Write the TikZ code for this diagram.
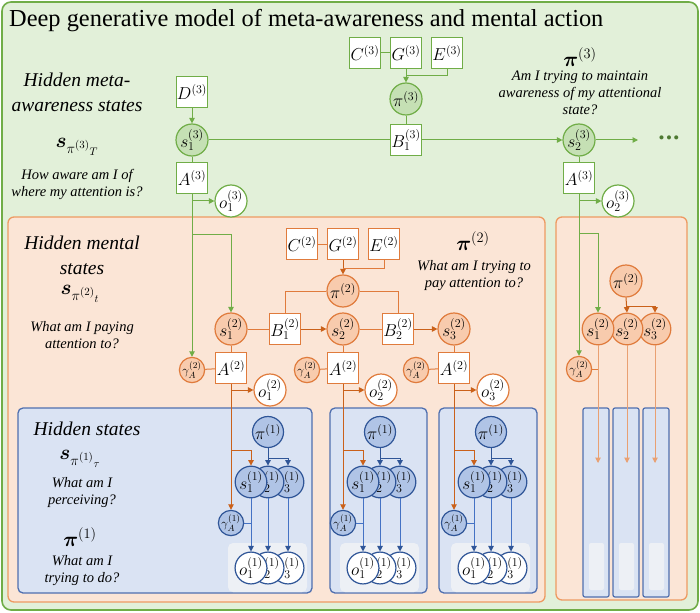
\documentclass[tikz,border=0pt]{standalone}
\usepackage{fontspec}
\setmainfont{Liberation Serif}
\usepackage{bm}
\usetikzlibrary{arrows.meta}
\definecolor{gline}{HTML}{70AD47}
\definecolor{gfill}{HTML}{E2F0D9}
\definecolor{gcirc}{HTML}{C5E0B4}
\definecolor{oline}{HTML}{E07B3C}
\definecolor{obox}{HTML}{EE9A62}
\definecolor{ofill}{HTML}{FBE5D6}
\definecolor{ocirc}{HTML}{F8CBAD}
\definecolor{odark}{HTML}{C55A11}
\definecolor{bline}{HTML}{4472C4}
\definecolor{bbox}{HTML}{4F6FAF}
\definecolor{bdark}{HTML}{2F5597}
\definecolor{bfill}{HTML}{DAE3F3}
\definecolor{bcirc}{HTML}{B0C4E6}
\definecolor{pale}{HTML}{EDF0F5}
\tikzset{
  lab/.style={font=\fontsize{17}{19}\selectfont, inner sep=0pt},
  smalllab/.style={font=\fontsize{13}{15}\selectfont, inner sep=0pt},
  gsq/.style={lab, draw=gline, line width=1.2pt, fill=white, minimum size=31pt},
  gci/.style={lab, circle, draw=gline, line width=1.2pt, fill=gcirc, minimum size=32pt},
  gwc/.style={gci, fill=white},
  osq/.style={lab, draw=oline, line width=1.2pt, fill=white, minimum size=31pt},
  oci/.style={lab, circle, draw=oline, line width=1.2pt, fill=ocirc, minimum size=32pt},
  owc/.style={oci, fill=white},
  ogam/.style={smalllab, circle, draw=oline, line width=1.2pt, fill=ocirc, minimum size=24pt},
  bci/.style={lab, circle, draw=bdark, line width=1.2pt, fill=bcirc, minimum size=31pt},
  bwc/.style={bci, fill=white},
  bgam/.style={smalllab, circle, draw=bdark, line width=1.2pt, fill=bcirc, minimum size=24pt},
  tip/.style={-{Triangle[length=5.5pt,width=5.5pt]}},
  gl/.style={draw=gline, line width=1pt},
  ga/.style={gl, tip},
  ol/.style={draw=oline, line width=1pt},
  oa/.style={draw=odark!80!oline, line width=1pt, tip},
  ofa/.style={draw=oline!65!ofill, line width=1pt, tip},
  bl/.style={draw=bline, line width=1pt},
  ba/.style={draw=bdark, line width=1pt, tip},
  bla/.style={draw=bline, line width=1pt, -{Triangle[length=5.5pt,width=5.5pt,color=bdark]}},
  head/.style={font=\fontsize{19.5}{25}\selectfont\itshape, align=center},
  note/.style={font=\fontsize{14.5}{17}\selectfont\itshape, align=center},
  sym/.style={font=\fontsize{22}{24}\selectfont},
  pisym/.style={font=\fontsize{20}{22}\selectfont},
  panel/.style={rounded corners=6pt, line width=1.3pt},
}
\begin{document}
\begin{tikzpicture}[x=1pt,y=-1pt]
\useasboundingbox (0,0) rectangle (700,612);
% panels
\draw[panel, draw=gline, fill=gfill, rounded corners=9pt, line width=1.6pt] (2,2) rectangle (698,610);
\draw[panel, draw=obox, fill=ofill] (8,217) rectangle (545,602);
\draw[panel, draw=obox, fill=ofill] (556,217) rectangle (687,600);
\draw[panel, draw=bbox, fill=bfill, rounded corners=5pt] (18,408) rectangle (312,593);
\draw[panel, draw=bbox, fill=bfill, rounded corners=5pt] (330,408) rectangle (427,593);
\draw[panel, draw=bbox, fill=bfill, rounded corners=5pt] (439,408) rectangle (537,593);
\foreach \x in {583,613,643} {
  \draw[draw=bbox, fill=bfill, rounded corners=2pt, line width=1.2pt] (\x,408) rectangle ({\x+26},597);
  \fill[pale, rounded corners=2pt] ({\x+6},543) rectangle ({\x+21},590);
}
% title
\node[anchor=west, font=\fontsize{24.4}{27}\selectfont, inner sep=0pt] (title) at (9,21) {Deep generative model of meta-awareness and mental action};
% texts level 3
\node[head] (t3a) at (77,92) {Hidden meta-\\awareness states};
\node[sym] (t3b) at (77,147) {$\bm{s}_{\pi^{(3)}{}_{T}}$};
\node[note] (t3c) at (77,184) {How aware am I of\\where my attention is?};
\node[pisym] (t3d) at (580,57) {$\bm{\pi}^{(3)}$};
\node[note] (t3e) at (580,93) {Am I trying to maintain\\awareness of my attentional\\state?};
% texts level 2
\node[head] (t2a) at (82,255) {Hidden mental\\states};
\node[sym] (t2b) at (80,294) {$\bm{s}_{\pi^{(2)}{}_{t}}$};
\node[note] (t2c) at (82,335) {What am I paying\\attention to?};
\node[pisym] (t2d) at (473,241) {$\bm{\pi}^{(2)}$};
\node[note] (t2e) at (474,276) {What am I trying to\\pay attention to?};
% texts level 1
\node[head] (t1a) at (87,429) {Hidden states};
\node[sym] (t1b) at (80,459) {$\bm{s}_{\pi^{(1)}{}_{\tau}}$};
\node[note] (t1c) at (82,493) {What am I\\perceiving?};
\node[pisym] (t1d) at (80,537) {$\bm{\pi}^{(1)}$};
\node[note] (t1e) at (82,571) {What am I\\trying to do?};
% level 3 nodes
\node[gsq] (D3) at (192,92) {$D^{(3)}$};
\node[gci] (s13) at (192,140) {$s_1^{(3)}$};
\node[gsq] (A3) at (192,178) {$A^{(3)}$};
\node[gwc] (o13) at (231,201) {$o_1^{(3)}$};
\node[gsq] (C3) at (365,53) {$C^{(3)}$};
\node[gsq] (G3) at (406,53) {$G^{(3)}$};
\node[gsq] (E3) at (447,53) {$E^{(3)}$};
\node[gci] (pi3) at (406,99) {$\pi^{(3)}$};
\node[gsq] (B13) at (406,140) {$B_1^{(3)}$};
\node[gci] (s23) at (579,140) {$s_2^{(3)}$};
\node[gsq] (A32) at (579,178) {$A^{(3)}$};
\node[gwc] (o23) at (618,201) {$o_2^{(3)}$};
\coordinate (e3) at (638,140);
\node[font=\fontsize{17}{17}\selectfont, text=gline!70!black, inner sep=0pt] (dots) at (669,140) {\textbullet\hspace{1.5pt}\textbullet\hspace{1.5pt}\textbullet};
\coordinate (j3) at (406,76);
\coordinate (k1) at (192,234);
\coordinate (k2) at (579,233);
\coordinate (y450) at (0,450);
\coordinate (y458) at (0,458);
\coordinate (y306) at (0,306);
\coordinate (y463) at (0,463);
% level 3 edges
\draw[ga] (D3) -- (s13);
\draw[gl] (s13) -- (A3);
\draw[gl] (C3) -- (G3);
\draw[ga] (G3) -- (pi3);
\draw[gl] (E3.south) |- (j3);
\draw[gl] (pi3) -- (B13);
\draw[gl] (s13) -- (B13);
\draw[ga] (B13) -- (s23);
\draw[ga] (s23) -- (e3);
\draw[gl] (s23) -- (A32);
\draw[ga] (A3.south |- o13.west) -- (o13.west);
\draw[ga] (A32.south |- o23.west) -- (o23.west);
% level 2 nodes
\node[osq] (C2) at (302,244) {$C^{(2)}$};
\node[osq] (G2) at (343,244) {$G^{(2)}$};
\node[osq] (E2) at (384,244) {$E^{(2)}$};
\node[oci] (pi2) at (343,291) {$\pi^{(2)}$};
\node[oci] (ss1) at (231,329) {$s_1^{(2)}$};
\node[osq] (B12) at (285,329) {$B_1^{(2)}$};
\node[oci] (ss2) at (343,329) {$s_2^{(2)}$};
\node[osq] (B22) at (398,329) {$B_2^{(2)}$};
\node[oci] (ss3) at (454,329) {$s_3^{(2)}$};
\coordinate (j2) at (343,268);
\draw[ol] (C2) -- (G2);
\draw[oa] (G2) -- (pi2);
\draw[ol] (E2.south) |- (j2);
\draw[ol] (pi2.west) -| (B12.north);
\draw[ol] (pi2.east) -| (B22.north);
\draw[ol] (ss1) -- (B12);
\draw[oa] (B12) -- (ss2);
\draw[ol] (ss2) -- (B22);
\draw[oa] (B22) -- (ss3);
\draw[ga] (k1) -| (ss1.north);
% repeated columns
\foreach \i/\S/\G/\O in {1/231/192/270, 2/343/307/381, 3/454/416/493} {
  \node[osq] (A2\i) at (\S,368) {$A^{(2)}$};
  \node[ogam] (gam2\i) at (\G,370) {$\gamma_A^{(2)}$};
  \node[owc] (o2\i) at (\O,390) {$o_\i^{(2)}$};
  \draw[ol] (gam2\i) -- (A2\i);
  \draw[ol] (ss\i) -- (A2\i);
  \draw[oa] (A2\i.south |- o2\i.west) -- (o2\i.west);
  % level 1
  \fill[pale, rounded corners=5pt] ({\S-3},543) rectangle ({\S+76},592);
  \node[bci] (p\i) at ({\S+37},432) {$\pi^{(1)}$};
  \node[bci] (sc\i) at ({\S+57},482) {$s_3^{(1)}$};
  \node[bci] (sb\i) at ({\S+37},482) {$s_2^{(1)}$};
  \node[bci] (sa\i) at ({\S+20},482) {$s_1^{(1)}$};
  \node[bwc] (oc\i) at ({\S+57},568) {$o_3^{(1)}$};
  \node[bwc] (ob\i) at ({\S+37},568) {$o_2^{(1)}$};
  \node[bwc] (oa\i) at ({\S+20},568) {$o_1^{(1)}$};
  \node[bgam] (gam1\i) at (\S,523) {$\gamma_A^{(1)}$};
  \draw[oa] (A2\i.south) -- (gam1\i.north);
  \draw[oa] (A2\i.south |- y450) -| (sa\i.north);
  \draw[ba] (p\i.south) -- (sb\i.north);
  \draw[ba] (p\i.south |- y458) -| (sc\i.north);
  \draw[bla] (sa\i.south) -- (oa\i.north);
  \draw[bla] (sb\i.south) -- (ob\i.north);
  \draw[bla] (sc\i.south) -- (oc\i.north);
  \draw[bl] (gam1\i.east) -- (gam1\i.east -| sa\i.south);
}
\draw[ga] (A3.south) -- (gam21.north);
% right column
\node[oci] (rpi) at (626,281) {$\pi^{(2)}$};
\node[oci, minimum size=31pt] (rs3) at (655,329) {$s_3^{(2)}$};
\node[oci, minimum size=31pt] (rs2) at (627,329) {$s_2^{(2)}$};
\node[oci, minimum size=31pt] (rs1) at (598,329) {$s_1^{(2)}$};
\node[ogam] (rgam) at (579,369) {$\gamma_A^{(2)}$};
\draw[ga] (A32.south) -- (rgam.north);
\draw[ga] (k2) -| (rs1.north);
\draw[oa] (rpi.south) -- (rs2.north);
\draw[oa] (rpi.south |- y306) -| (rs3.north);
\draw[ol] (rgam.east) -- (rgam.east -| rs1.south);
\draw[ofa] (rs1.south) -- (rs1.south |- y463);
\draw[ofa] (rs2.south) -- (rs2.south |- y463);
\draw[ofa] (rs3.south) -- (rs3.south |- y463);
\end{tikzpicture}
\end{document}
